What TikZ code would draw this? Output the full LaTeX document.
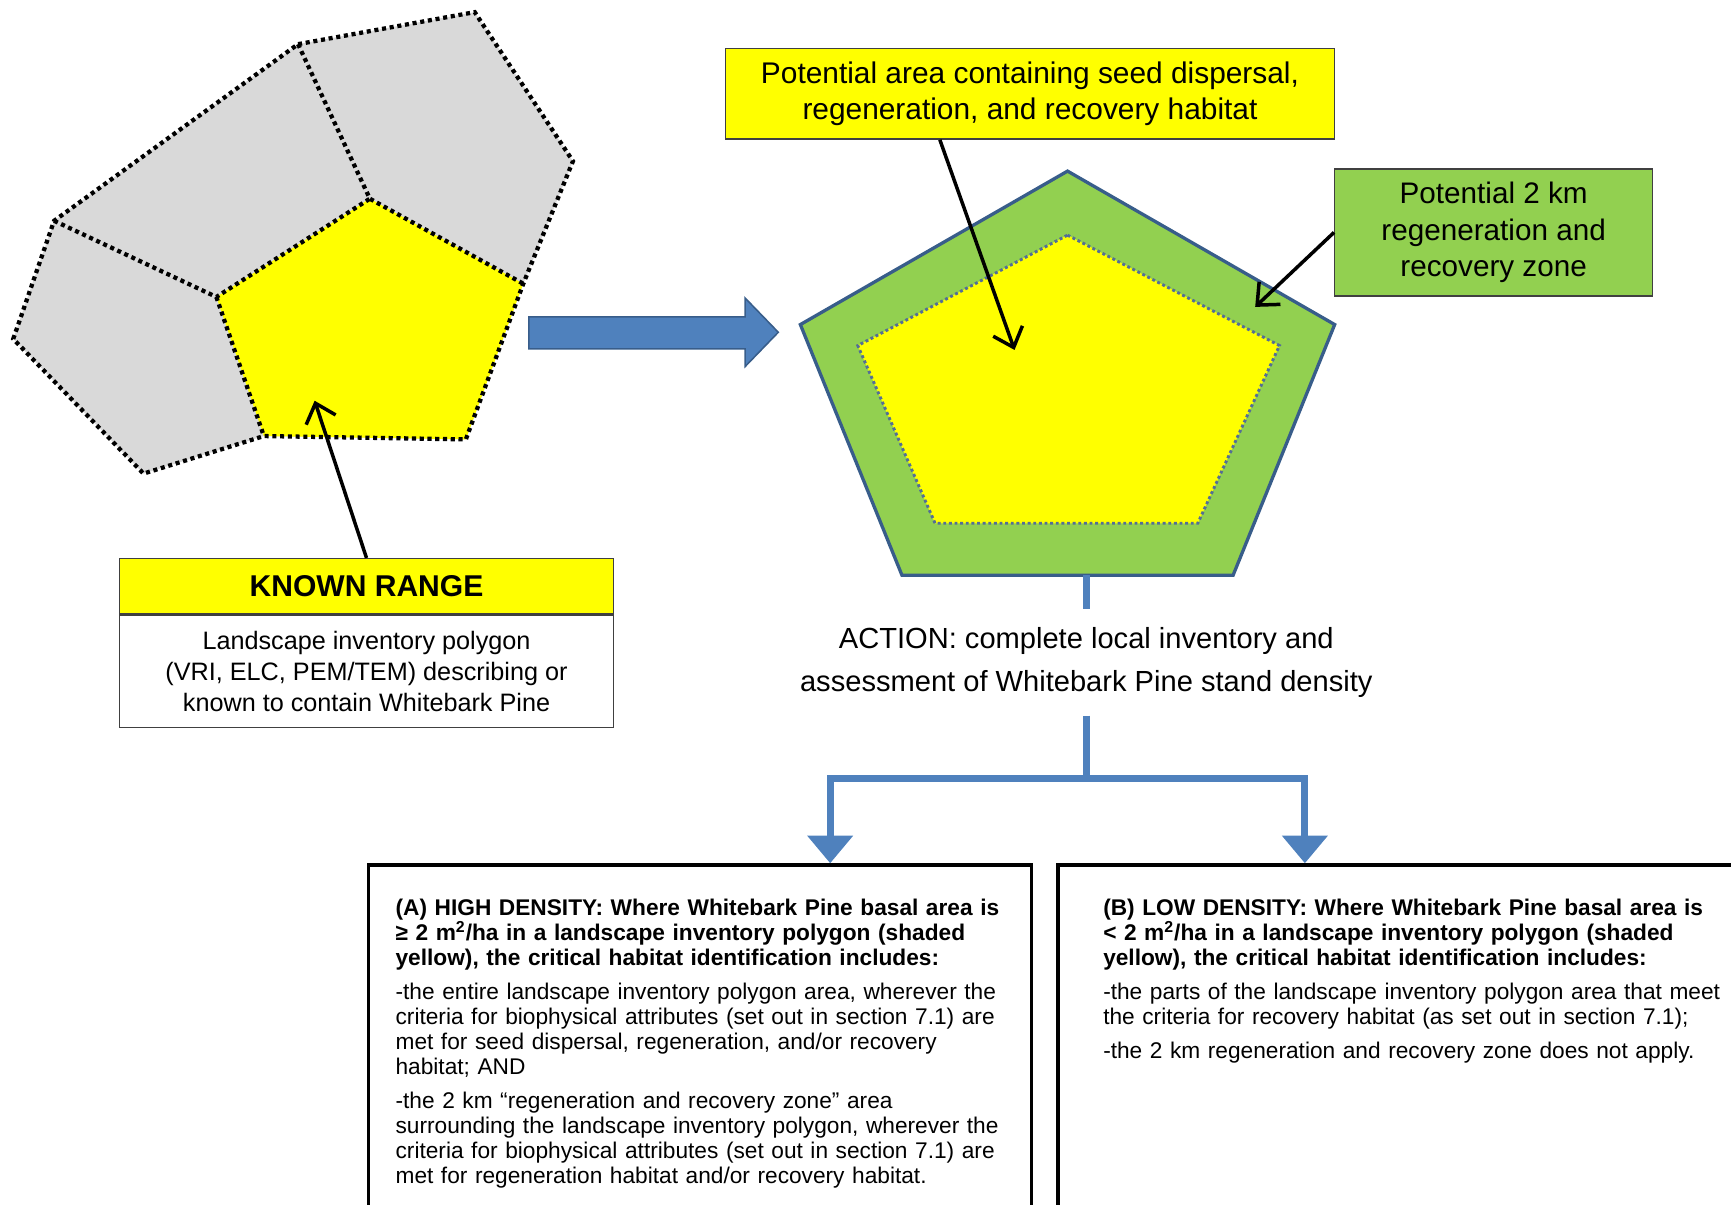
\documentclass[tikz,border=0pt]{standalone}
\usepackage{fontspec}
\setmainfont{Liberation Sans}
\usepackage{tikz}
\usetikzlibrary{shapes,arrows.meta}
\usepackage{color}
\definecolor{polygrey}{RGB}{217,217,217}
\definecolor{rangeyellow}{RGB}{255,255,0}
\definecolor{zonegreen}{RGB}{146,208,80}
\definecolor{linkblue}{RGB}{79,129,189}
\definecolor{edgeblue}{RGB}{56,93,138}
\definecolor{dotblue}{RGB}{84,110,150}
\tikzstyle{dotline}=[line width=2.2pt, dash pattern=on 2.1pt off 1.9pt, color=black]
\tikzstyle{zonedots}=[line width=1.5pt, dash pattern=on 1.5pt off 1.4pt, color=dotblue]
\tikzstyle{pointer}=[line width=1.8pt, -{Straight Barb[length=9pt,width=16pt]}]
\tikzstyle{bluelink}=[line width=3.7pt, color=linkblue]
\tikzstyle{bluearrow}=[bluelink, -{Triangle[length=0.5cm,width=0.8cm]}]
\tikzstyle{labelbox}=[draw=black!75, line width=0.7pt, align=center, inner sep=0pt]
\tikzstyle{densitybox}=[draw, line width=1.7pt, anchor=north west, minimum height=7cm]
\tikzstyle{desc}=[anchor=north west, text width=11.6cm, align=left, inner sep=0pt, font=\fontsize{11.7}{12.9}\selectfont]

\begin{document}
\begin{tikzpicture}[x=0.02cm, y=-0.02cm]
    \useasboundingbox (0,0) rectangle (1568,1091);
    \clip (0,0) rectangle (1568,1091);

    % corners of the inventory polygons
    \foreach \n/\x/\y in {a/270/40, b/430/11, c/519/146, d/474/257, e/422/398,
        f/239/395, g/130/429, h/12/307, i/49/200, j/335/180, k/196/269}
    \coordinate (\n) at (\x,\y);

    % grey neighbours, then the known range in yellow
    \fill[polygrey] (a) -- (b) -- (c) -- (d) -- (e) -- (f) -- (g) -- (h) -- (i) -- cycle;
    \fill[rangeyellow] (j) -- (d) -- (e) -- (f) -- (k) -- cycle;
    % dotted edges
    \draw[dotline] (a) -- (b) -- (c) -- (d) -- (e) -- (f) -- (g) -- (h) -- (i) -- cycle;
    \draw[dotline] (a) -- (j) -- (d);
    \draw[dotline] (i) -- (k) -- (j);
    \draw[dotline] (k) -- (f);

    % big blue arrow
    \draw[fill=linkblue, draw=edgeblue, line width=0.8pt]
    (479,287) -- (675,287) -- (675,270) -- (705,301) -- (675,332) -- (675,316) -- (479,316) -- cycle;

    % 2 km zone round the polygon
    \draw[fill=zonegreen, draw=edgeblue, line width=1.7pt]
    (967,155) -- (1209,294) -- (1117,521) -- (817,521) -- (725,294) -- cycle;
    \draw[zonedots, fill=rangeyellow]
    (967,213) -- (1159,313) -- (1085,474) -- (847,474) -- (777,313) -- cycle;

    % label boxes
    \node[labelbox, fill=rangeyellow, minimum width=8.96cm, minimum height=1cm,
        font=\bfseries\fontsize{15.5}{18}\selectfont] (knownhead) at (332,531) {KNOWN RANGE};
    \node[labelbox, anchor=north, minimum width=8.96cm, minimum height=2.04cm,
        font=\fontsize{13}{15.9}\selectfont] (knownbody) at (knownhead.south)
        {Landscape inventory polygon\\ (VRI, ELC, PEM/TEM) describing or\\ known to contain Whitebark Pine};
    \node[labelbox, fill=rangeyellow, minimum width=11.04cm, minimum height=1.64cm,
        font=\fontsize{15.4}{18.5}\selectfont] (seedbox) at (933,85)
        {Potential area containing seed dispersal,\\ regeneration, and recovery habitat};
    \node[labelbox, fill=zonegreen, minimum width=5.76cm, minimum height=2.3cm,
        font=\fontsize{15.3}{18.8}\selectfont] (zonebox) at (1353,210.5)
        {Potential 2 km\\ regeneration and\\ recovery zone};

    % pointers
    \coordinate (knowntip) at (285,363);
    \coordinate (seedtip) at (919,317);
    \coordinate (zonetip) at (1137,278);
    \draw[pointer] (knownhead.north) -- (knowntip);
    \draw[pointer] (seedbox.207.7) -- (seedtip);
    \draw[pointer] (zonebox.west) -- (zonetip);

    % action and the split below it
    \coordinate (pentbot) at (984,521);
    \node[align=center, inner sep=0pt, minimum height=1.92cm,
        font=\fontsize{15}{22.2}\selectfont] (action) at (984,600)
        {ACTION: complete local inventory and\\ assessment of Whitebark Pine stand density};
    \draw[bluelink] (pentbot) -- (action.north);
    \coordinate (split) at (984,705);
    \draw[bluelink] (action.south) -- (split);

    % the two density boxes
    \node[densitybox, minimum width=12.02cm] (boxA) at (332,782) {};
    \node[densitybox, minimum width=13cm] (boxB) at (957,782) {};
    \coordinate (tipA) at (752,782);
    \coordinate (tipB) at (1182,782);
    \foreach \b in {A,B}
    \draw[bluearrow] (split) -| (tip\b);

    \node[desc] (textA) at (358,814) {\bfseries (A) HIGH DENSITY: Where Whitebark Pine basal area is\\
        ≥ 2 m\textsuperscript{2}/ha in a landscape inventory polygon (shaded\\
        yellow), the critical habitat identification includes:\\[4.5pt]
        \mdseries -the entire landscape inventory polygon area, wherever the\\
        criteria for biophysical attributes (set out in section 7.1) are\\
        met for seed dispersal, regeneration, and/or recovery\\
        habitat; AND\\[4.5pt]
        -the 2 km “regeneration and recovery zone” area\\
        surrounding the landscape inventory polygon, wherever the\\
        criteria for biophysical attributes (set out in section 7.1) are\\
        met for regeneration habitat and/or recovery habitat.};
    \node[desc] (textB) at (999,814) {\bfseries (B) LOW DENSITY: Where Whitebark Pine basal area is\\
        < 2 m\textsuperscript{2}/ha in a landscape inventory polygon (shaded\\
        yellow), the critical habitat identification includes:\\[4.5pt]
        \mdseries -the parts of the landscape inventory polygon area that meet\\
        the criteria for recovery habitat (as set out in section 7.1);\\[4.5pt]
        -the 2 km regeneration and recovery zone does not apply.};

\end{tikzpicture}
\end{document}
